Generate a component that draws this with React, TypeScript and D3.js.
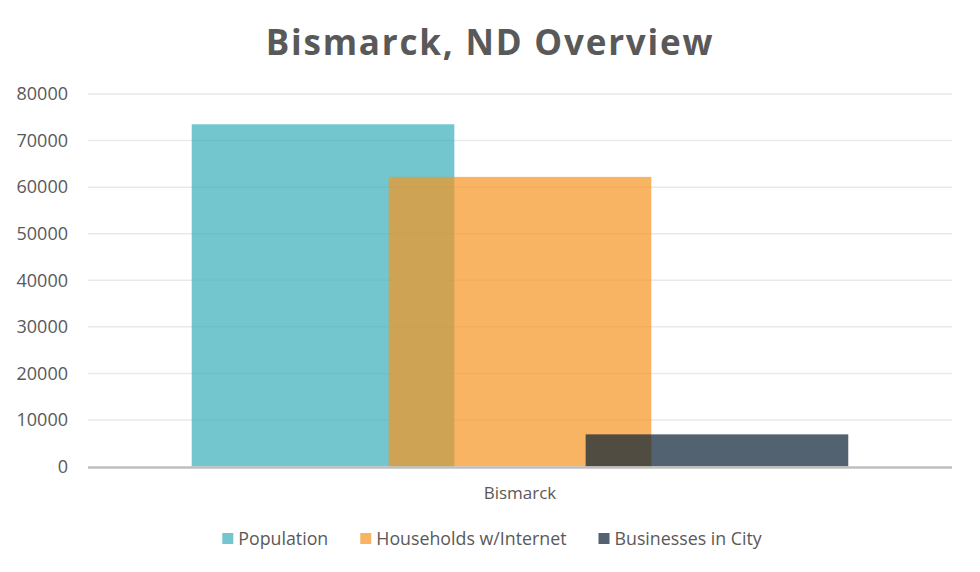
import React, { useEffect, useRef } from "react";
import * as d3 from "d3";

const categories = ["Bismarck"];
const seriesNames = ["Population", "Households w/Internet", "Businesses in City"];
const seriesValues = [[73500], [62200], [6900]];
const seriesColors = ["#37AEB9", "#F59421", "#081F33"];
const yTicks = [0, 10000, 20000, 30000, 40000, 50000, 60000, 70000, 80000];

const W = 980;
const H = 572;

export default function App() {
  const ref = useRef<SVGSVGElement>(null);

  useEffect(() => {
    const svg = d3.select(ref.current);
    svg.selectAll("*").remove();

    const margin = { top: 94, right: 28, bottom: 106, left: 88 };
    const font = "'Open Sans', sans-serif";
    const textColor = "#595959";

    const x = d3
      .scaleBand()
      .domain(categories)
      .range([margin.left, W - margin.right])
      .paddingInner(0)
      .paddingOuter(0.158);
    const y = d3.scaleLinear().domain([0, 80000]).range([H - margin.bottom + 0.5, margin.top]);

    // title
    svg
      .append("text")
      .attr("x", 490)
      .attr("y", 55)
      .attr("text-anchor", "middle")
      .style("font-family", font)
      .style("font-weight", "bold")
      .style("font-size", "35px")
      .style("letter-spacing", "1.8px")
      .style("fill", textColor)
      .text("Bismarck, ND Overview");

    // gridlines
    svg
      .append("g")
      .selectAll("line")
      .data(yTicks.filter(d => d > 0))
      .join("line")
      .attr("x1", margin.left)
      .attr("x2", W - margin.right)
      .attr("y1", d => y(d))
      .attr("y2", d => y(d))
      .attr("stroke", "#E9E9E9")
      .attr("stroke-width", 1.5);

    // y labels
    svg
      .append("g")
      .selectAll("text")
      .data(yTicks)
      .join("text")
      .attr("x", 68)
      .attr("y", d => y(d))
      .attr("dy", "0.35em")
      .attr("text-anchor", "end")
      .style("font-family", font)
      .style("font-size", "18px")
      .style("fill", textColor)
      .text(d => d);

    // bars, overlapping by 25%
    const overlap = 0.25;
    const n = seriesNames.length;
    const barW = x.bandwidth() / (n - (n - 1) * overlap);
    const step = barW * (1 - overlap);

    seriesNames.forEach((name, i) => {
      svg
        .append("g")
        .selectAll("rect")
        .data(seriesValues[i])
        .join("rect")
        .attr("x", (d, j) => x(categories[j])! + i * step)
        .attr("y", d => y(d))
        .attr("width", barW)
        .attr("height", d => y(0) - y(d))
        .attr("fill", seriesColors[i])
        .attr("fill-opacity", 0.7);
    });

    // baseline
    svg
      .append("line")
      .attr("x1", margin.left)
      .attr("x2", W - margin.right)
      .attr("y1", y(0) + 1)
      .attr("y2", y(0) + 1)
      .attr("stroke", "#BFBFBF")
      .attr("stroke-width", 2.5);

    // category label
    svg
      .append("g")
      .selectAll("text")
      .data(categories)
      .join("text")
      .attr("x", d => x(d)! + x.bandwidth() / 2)
      .attr("y", 499)
      .attr("text-anchor", "middle")
      .style("font-family", font)
      .style("font-size", "17px")
      .style("fill", textColor)
      .text(d => d);

    // legend
    const legend = svg.append("g");
    const gap = 32;
    let cx = 0;
    seriesNames.forEach((name, i) => {
      const item = legend.append("g").attr("transform", `translate(${cx},0)`);
      item
        .append("rect")
        .attr("x", 0)
        .attr("y", -12)
        .attr("width", 11)
        .attr("height", 11)
        .attr("fill", seriesColors[i])
        .attr("fill-opacity", 0.7);
      const t = item
        .append("text")
        .attr("x", 16)
        .attr("y", 0)
        .style("font-family", font)
        .style("font-size", "17.8px")
        .style("fill", textColor)
        .text(name);
      const tw = (t.node() as SVGTextElement).getComputedTextLength();
      cx += 16 + tw + gap;
    });
    const total = cx - gap;
    legend.attr("transform", `translate(${492 - total / 2},545)`);
  }, []);

  return <svg ref={ref} width={W} height={H} style={{ display: "block", margin: -8 }} />;
}
